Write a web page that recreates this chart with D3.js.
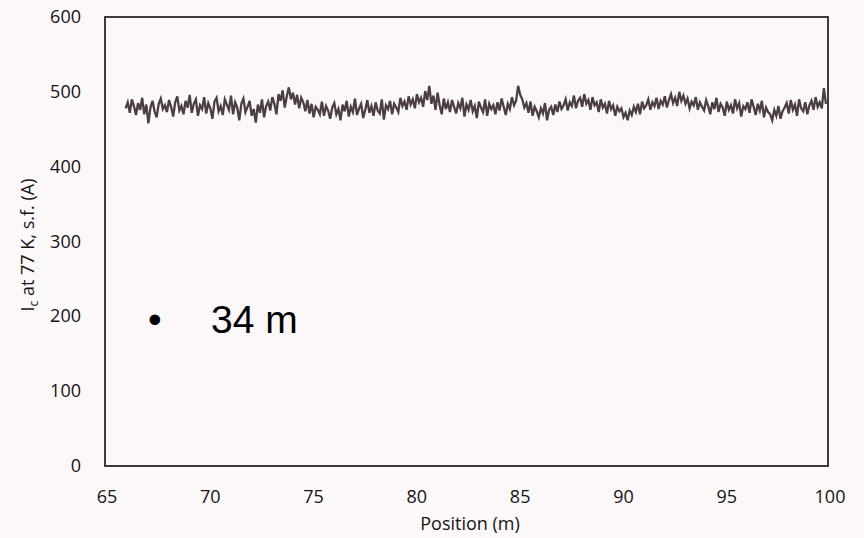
<!DOCTYPE html>
<html lang="en">
<head>
<meta charset="utf-8">
<title>Ic along tape</title>
<script src="https://d3js.org/d3.v7.min.js"></script>
<style>
    body { margin: 0; background: #fcf8fa; }
    svg { display: block; }
    .tick-label { font-family: "Open Sans", Lato, sans-serif; font-size: 18px; fill: #151313; }
    .axis-title { font-family: "Open Sans", Lato, sans-serif; font-size: 18px; fill: #151313; }
</style>
</head>
<body>
<svg width="864" height="538"></svg>
<script>
// tape start and sampling step (m)
const startPos = 66.0;
const step = 0.1;

// Ic readings (A), one every 0.1 m from 66.0 m to 99.9 m
const icValues = [
    478, 486, 472, 490, 481, 469, 485, 476, 492, 470, 483, 458, 479, 488, 474, 466, 484, 491, 477, 482,
    473, 489, 480, 467, 486, 494, 475, 481, 470, 488, 479, 496, 472, 484, 490, 468, 482, 477, 493, 471,
    485, 478, 464, 487, 492, 474, 481, 469, 490, 483, 476, 495, 470, 486, 479, 462, 484, 491, 473, 480,
    488, 468, 477, 459, 483, 472, 490, 466, 481, 487, 475, 493, 484, 470, 497, 488, 502, 479, 494, 506,
    490, 499, 483, 496, 478, 492, 486, 474, 489, 471, 484, 466, 480, 476, 470, 487, 468, 481, 475, 464,
    479, 485, 470, 477, 462, 483, 474, 488, 467, 480, 473, 491, 469, 478, 484, 465, 476, 489, 472, 481,
    468, 486, 475, 471, 490, 463, 482, 477, 488, 470, 484, 479, 473, 492, 481, 487, 476, 494, 483, 490,
    478, 497, 486, 492, 480, 501, 489, 508, 484, 495, 476, 499, 482, 470, 491, 477, 486, 473, 489, 480,
    471, 485, 478, 492, 467, 483, 476, 489, 474, 481, 465, 487, 479, 473, 490, 468, 484, 477, 482, 470,
    486, 475, 491, 480, 469, 484, 477, 493, 482, 488, 508, 496, 490, 479, 485, 472, 487, 468, 480, 474,
    466, 478, 471, 485, 462, 476, 480, 469, 483, 473, 487, 477, 482, 490, 475, 486, 481, 495, 478, 488,
    492, 480, 497, 484, 489, 476, 493, 482, 486, 473, 490, 479, 484, 471, 488, 477, 482, 468, 480, 474,
    478, 466, 472, 462, 475, 469, 480, 473, 484, 470, 487, 478, 482, 490, 476, 486, 481, 492, 477, 488,
    483, 494, 479, 489, 497, 485, 492, 481, 500, 488, 495, 484, 491, 478, 487, 482, 493, 476, 486, 480,
    475, 489, 481, 470, 486, 477, 492, 473, 484, 479, 468, 487, 476, 482, 471, 490, 478, 485, 467, 481,
    477, 486, 472, 490, 480, 469, 484, 475, 488, 466, 479, 473, 470, 462, 476, 468, 481, 464, 474, 479,
    485, 471, 489, 476, 483, 468, 490, 478, 474, 486, 470, 482, 488, 476, 493, 480, 486, 478, 505, 484
];

const xTicks = [65, 70, 75, 80, 85, 90, 95, 100];
const yTicks = [0, 100, 200, 300, 400, 500, 600];

const data = icValues.map((v, i) => ({ pos: startPos + i * step, ic: v }));

const svg = d3.select('svg');

// plot box
const box = { left: 105, right: 828, top: 17, bottom: 466 };

const x = d3.scaleLinear()
    .domain([65, 100])
    .range([box.left, box.right]);
const y = d3.scaleLinear()
    .domain([0, 600])
    .range([box.bottom, box.top]);

// frame
svg.append('rect')
    .attr('x', box.left)
    .attr('y', box.top)
    .attr('width', box.right - box.left)
    .attr('height', box.bottom - box.top)
    .attr('fill', 'none')
    .attr('stroke', '#2a2626')
    .attr('stroke-width', 1.8);

// the trace
const line = d3.line()
    .x(d => x(d.pos))
    .y(d => y(d.ic));

svg.append('path')
    .datum(data)
    .attr('d', line)
    .attr('fill', 'none')
    .attr('stroke', '#4a4042')
    .attr('stroke-width', 2.3);

// x tick labels (no tick marks in the original)
svg.selectAll('.xlab')
    .data(xTicks)
    .join('text')
    .attr('class', 'tick-label')
    .attr('x', d => x(d) + 2)
    .attr('y', 503)
    .attr('text-anchor', 'middle')
    .text(d => d);

// y tick labels
svg.selectAll('.ylab')
    .data(yTicks)
    .join('text')
    .attr('class', 'tick-label')
    .attr('x', 81)
    .attr('y', d => y(d) + 6)
    .attr('text-anchor', 'end')
    .text(d => d);

// axis titles
svg.append('text')
    .attr('class', 'axis-title')
    .attr('x', 470)
    .attr('y', 530)
    .attr('text-anchor', 'middle')
    .text('Position (m)');

const yt = svg.append('text')
    .attr('class', 'axis-title')
    .attr('transform', 'translate(34,245) rotate(-90)')
    .attr('text-anchor', 'middle');
yt.append('tspan').text('I');
yt.append('tspan').attr('font-size', 12).attr('dy', 4).text('c');
yt.append('tspan').attr('dy', -4).text(' at 77 K, s.f. (A)');

// slide bullet
svg.append('text')
    .attr('x', 148)
    .attr('y', 333)
    .attr('font-family', '"Liberation Sans", Arial, sans-serif')
    .attr('font-size', 39)
    .attr('fill', '#000')
    .text('\u2022');
svg.append('text')
    .attr('x', 211)
    .attr('y', 333)
    .attr('font-family', '"Liberation Sans", Arial, sans-serif')
    .attr('font-size', 39)
    .attr('fill', '#000')
    .text('34 m');
</script>
</body>
</html>
